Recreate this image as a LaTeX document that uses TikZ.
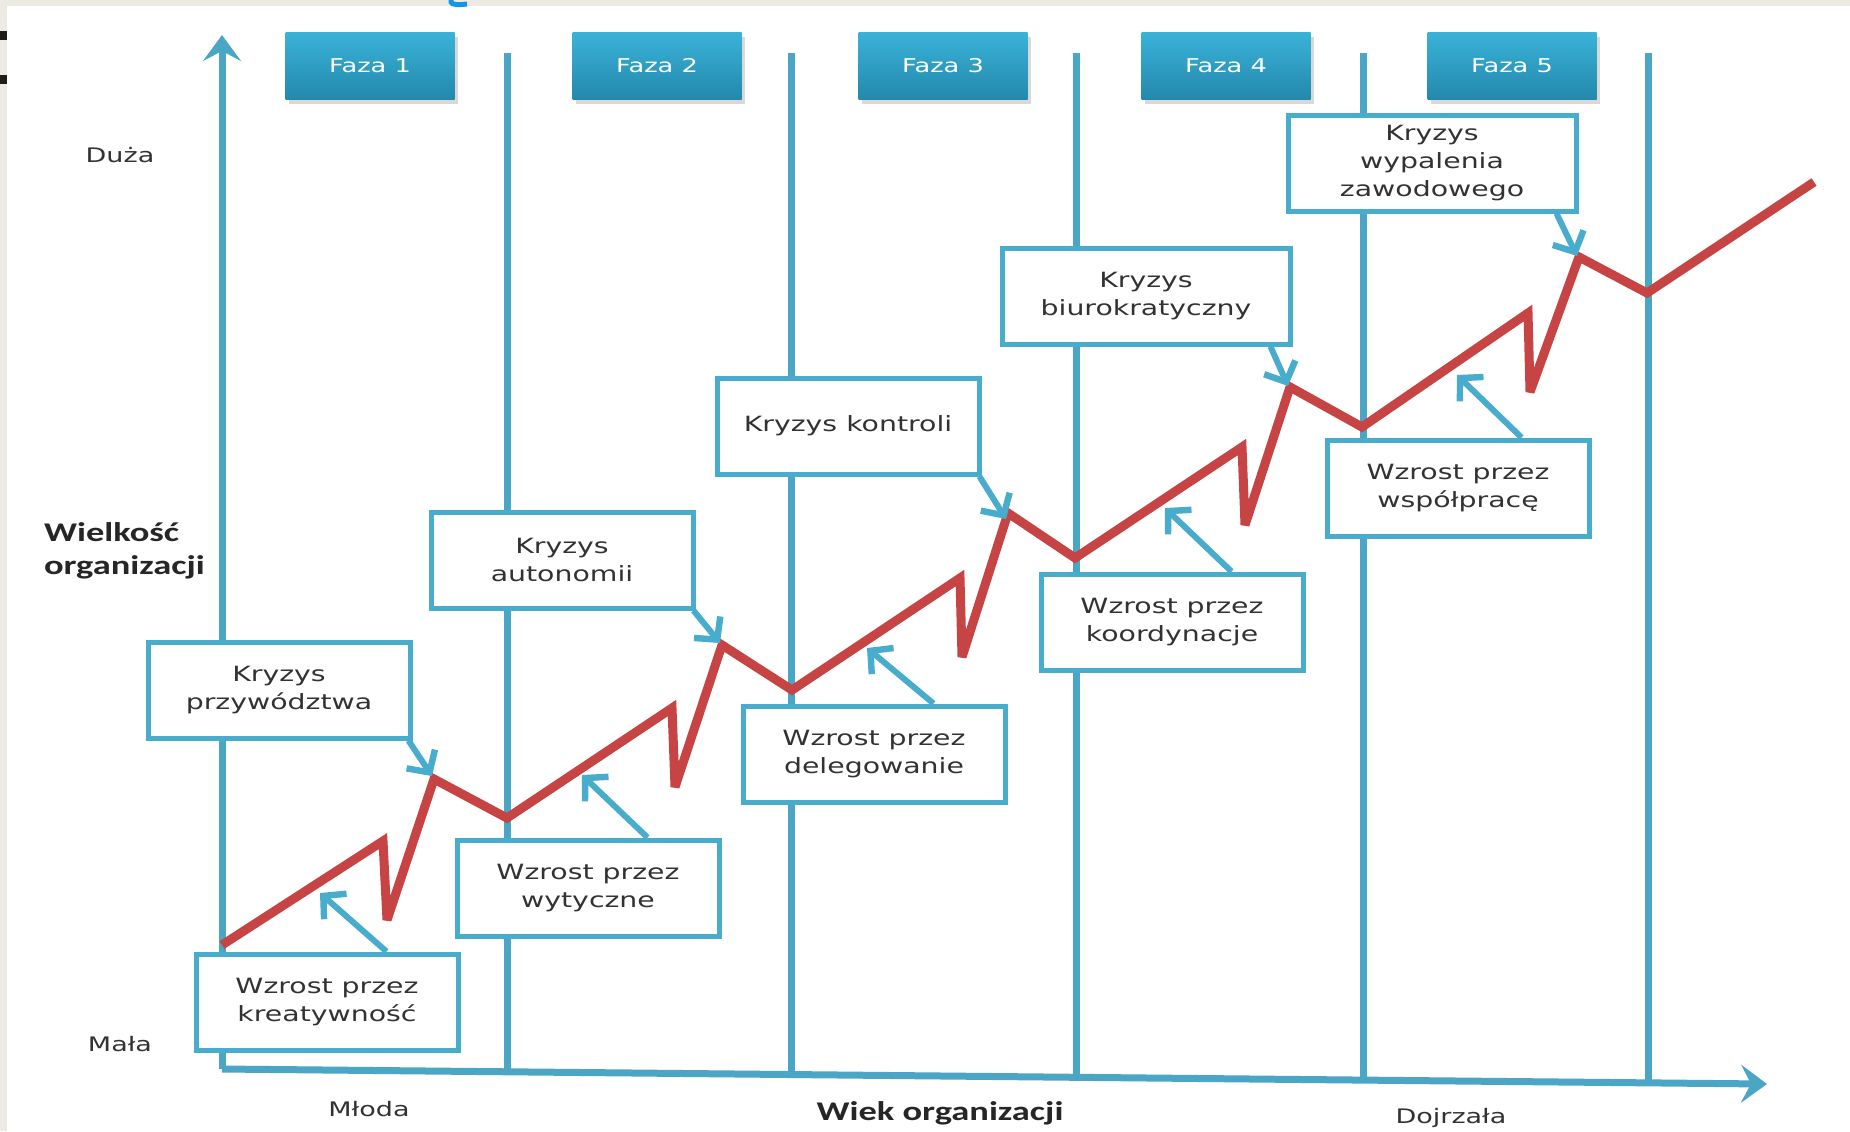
\documentclass[tikz,border=0pt]{standalone}
\usepackage{fontspec}
\setmainfont[FakeStretch=1.35]{DejaVu Sans}
\newfontfamily\labfont[FakeStretch=1.35]{Carlito}
\usetikzlibrary{arrows.meta,shadows}
\definecolor{axisblue}{RGB}{75,165,196}
\definecolor{boxblue}{RGB}{72,172,204}
\definecolor{redline}{RGB}{198,68,68}
\definecolor{fazatop}{RGB}{58,178,216}
\definecolor{fazabot}{RGB}{36,136,172}
\definecolor{txt}{RGB}{50,50,50}
\definecolor{beige}{RGB}{237,234,227}
\definecolor{fragblue}{RGB}{20,150,230}
\definecolor{markdark}{RGB}{30,30,20}
\tikzset{
  phaseline/.style={draw=axisblue, line width=3.5pt},
  axisline/.style={draw=axisblue, line width=3.5pt, -{Stealth[length=13pt,width=19pt,inset=5pt]}},
  fazabox/.style={rectangle, top color=fazatop, bottom color=fazabot, draw=none,
    minimum width=84.5pt, minimum height=33.5pt, text=white,
    font=\fontsize{9.5}{11}\selectfont,
    drop shadow={shadow xshift=1.5pt, shadow yshift=-2pt, opacity=0.3}},
  infobox/.style={rectangle, draw=boxblue, fill=white, line width=2.5pt,
    minimum width=131pt, minimum height=48pt, align=center, text=txt,
    font=\fontsize{10.5}{14}\selectfont},
  growth/.style={draw=redline, line width=4.5pt, line join=miter, miter limit=4},
  callout/.style={draw=boxblue, line width=3pt,
    -{Straight Barb[length=8pt,width=17pt,line width=3.2pt]}},
  axislabel/.style={text=txt, font=\fontsize{10}{12}\selectfont},
  axistitle/.style={text=black!85, font=\labfont\bfseries\fontsize{13.5}{16.5}\selectfont, align=left},
}
\begin{document}
\begin{tikzpicture}[x=0.5pt,y=-0.5pt]
\useasboundingbox (0,0) rectangle (1850,1131);
% background
\fill[beige] (0,0) rectangle (1850,1131);
\fill[white] (7,6) rectangle (1850,1131);
\fill[markdark] (0,31) rectangle (7,40);
\fill[markdark] (0,75) rectangle (7,84);
\draw[fragblue, line width=2.5pt] (451,0) -- (451,2) .. controls (451,5) and (460,5) .. (467,4);

% phase lines
\draw[phaseline] (507,53) -- (507,1072);
\draw[phaseline] (791,53) -- (791,1074.5);
\draw[phaseline] (1076,53) -- (1076,1077.3);
\draw[phaseline] (1363,53) -- (1363,1080);
\draw[phaseline] (1648,53) -- (1648,1082.8);

% axes
\coordinate (origin) at (222,1069);
\coordinate (ytip) at (222,35);
\coordinate (xtip) at (1767,1084);
\draw[axisline] (origin) -- (ytip);
\draw[axisline] (origin) -- (xtip);

% phase headers
\node[fazabox] (f1) at (370,66) {Faza 1};
\node[fazabox] (f2) at (657,66) {Faza 2};
\node[fazabox] (f3) at (943,66) {Faza 3};
\node[fazabox] (f4) at (1226,66) {Faza 4};
\node[fazabox] (f5) at (1512,66) {Faza 5};

% axis labels
\node[axislabel] (duza) at (120,155) {Duża};
\node[axislabel] (mala) at (120,1044) {Mała};
\node[axistitle, anchor=west] (wielkosc) at (37,551) {Wielkość\\organizacji};
\node[axislabel] (mloda) at (369,1109) {Młoda};
\node[axistitle] (wiek) at (940,1113) {Wiek organizacji};
\node[axislabel] (dojrzala) at (1451,1118) {Dojrzała};

% info boxes
\node[infobox] (kp) at (279,690) {Kryzys\\przywództwa};
\node[infobox] (gk) at (327,1002) {Wzrost przez\\kreatywność};
\node[infobox] (ka) at (562,560) {Kryzys\\autonomii};
\node[infobox] (gw) at (588,888) {Wzrost przez\\wytyczne};
\node[infobox] (kk) at (848,426) {Kryzys kontroli};
\node[infobox] (gd) at (874,754) {Wzrost przez\\delegowanie};
\node[infobox, minimum width=144pt] (kb) at (1146,296) {Kryzys\\biurokratyczny};
\node[infobox] (gc) at (1172,622) {Wzrost przez\\koordynacje};
\node[infobox, minimum width=144pt] (kw) at (1432,163) {Kryzys\\wypalenia\\zawodowego};
\node[infobox] (gs) at (1458,488) {Wzrost przez\\współpracę};

% growth line
\draw[growth] (222,945) -- (383,841) -- (387,920) -- (434,779) -- (507,818)
  -- (672,708) -- (675,787) -- (722,645) -- (792,690)
  -- (960,578) -- (962,657) -- (1008,513) -- (1075,558)
  -- (1242,447) -- (1245,525) -- (1290,387) -- (1362,427)
  -- (1528,313) -- (1530,392) -- (1579,257) -- (1647,293) -- (1814,182);

% callout tips
\coordinate (t1) at (432,776);
\coordinate (t2) at (320,893);
\coordinate (t3) at (720,643);
\coordinate (t4) at (582,775);
\coordinate (t5) at (1006,519);
\coordinate (t6) at (867,648);
\coordinate (t7) at (1288,386);
\coordinate (t8) at (1165,508);
\coordinate (t9) at (1577,256);
\coordinate (t10) at (1457,375);

\draw[callout] ([xshift=-2pt]kp.south east) -- (t1);
\draw[callout] ([xshift=-37pt]gk.north east) -- (t2);
\draw[callout] ([xshift=-1pt]ka.south east) -- (t3);
\draw[callout] ([xshift=-37pt]gw.north east) -- (t4);
\draw[callout] ([xshift=-1pt]kk.south east) -- (t5);
\draw[callout] ([xshift=-37pt]gd.north east) -- (t6);
\draw[callout] ([xshift=-11pt]kb.south east) -- (t7);
\draw[callout] ([xshift=-37pt]gc.north east) -- (t8);
\draw[callout] ([xshift=-11pt]kw.south east) -- (t9);
\draw[callout] ([xshift=-35pt]gs.north east) -- (t10);
\end{tikzpicture}
\end{document}
